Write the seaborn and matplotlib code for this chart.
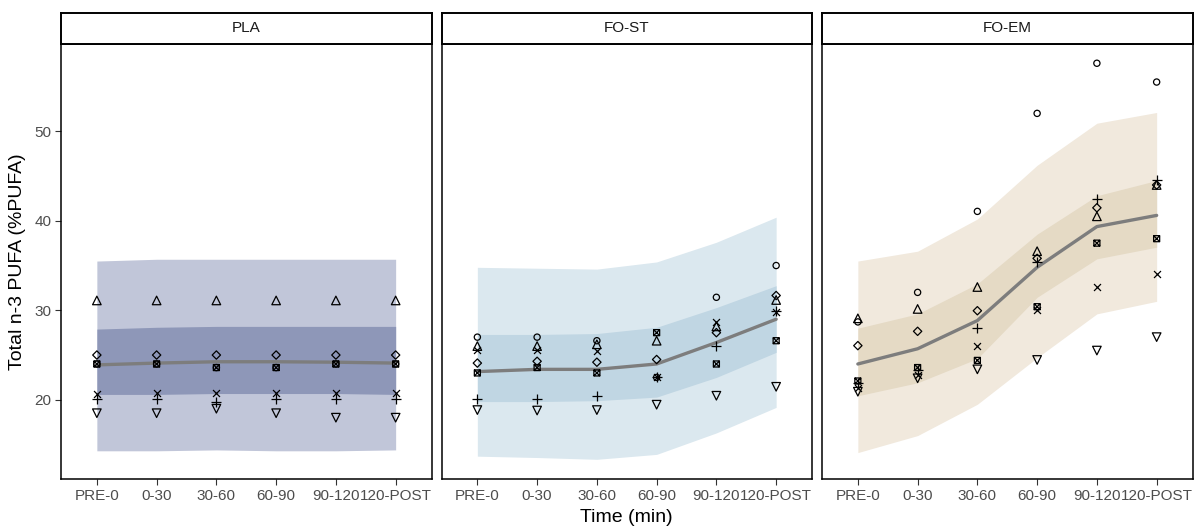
import numpy as np
import pandas as pd
import matplotlib
matplotlib.use("Agg")
import matplotlib.pyplot as plt
from matplotlib.path import Path
import seaborn as sns

sns.set_theme(style="white")
plt.rcParams["font.family"] = ["Liberation Sans", "DejaVu Sans"]

# ---- data -------------------------------------------------------------
TIMES = ["PRE-0", "0-30", "30-60", "60-90", "90-120", "120-POST"]
GROUPS = ["PLA", "FO-ST", "FO-EM"]
SUBJECTS = ["S1", "S2", "S3", "S4", "S5", "S6", "S7"]

# individual values, one row per subject (S1..S7), one column per time window
pla_obs = [
    [24.0, 24.0, 23.6, 23.6, 24.0, 24.0],
    [31.1, 31.1, 31.1, 31.1, 31.1, 31.1],
    [20.1, 20.1, 19.7, 20.1, 20.1, 20.1],
    [20.6, 20.8, 20.8, 20.8, 20.8, 20.8],
    [25.0, 25.0, 25.0, 25.0, 25.0, 25.0],
    [18.5, 18.5, 19.0, 18.5, 18.0, 18.0],
    [24.0, 24.0, 23.6, 23.6, 24.0, 24.0],
]
fost_obs = [
    [27.0, 27.0, 26.6, 22.5, 31.45, 35.0],
    [26.0, 26.0, 26.2, 26.6, 28.2, 31.15],
    [20.1, 20.1, 20.45, 22.5, 26.05, 29.95],
    [25.6, 25.6, 25.5, 22.5, 28.65, 29.8],
    [24.1, 24.3, 24.2, 24.5, 27.5, 31.65],
    [18.85, 18.8, 18.85, 19.45, 20.45, 21.45],
    [23.0, 23.6, 23.0, 27.5, 24.0, 26.6],
]
foem_obs = [
    [28.7, 32.0, 41.05, 52.0, 57.6, 55.5],
    [29.1, 30.15, 32.6, 36.6, 40.5, 44.0],
    [21.9, 23.3, 28.0, 35.4, 42.45, 44.6],
    [21.3, 22.8, 26.05, 30.0, 32.55, 34.05],
    [26.05, 27.65, 29.95, 35.8, 41.45, 44.0],
    [20.9, 22.4, 23.4, 24.45, 25.5, 27.0],
    [22.1, 23.6, 24.4, 30.4, 37.5, 38.0],
]

# model fit with confidence (inner) and prediction (outer) intervals
pla_fit = [23.9, 24.1, 24.25, 24.25, 24.2, 24.1]
pla_ci_lo = [20.6, 20.6, 20.7, 20.7, 20.7, 20.6]
pla_ci_hi = [27.9, 28.1, 28.2, 28.2, 28.2, 28.2]
pla_pi_lo = [14.3, 14.3, 14.4, 14.3, 14.3, 14.4]
pla_pi_hi = [35.5, 35.7, 35.7, 35.7, 35.7, 35.7]

fost_fit = [23.15, 23.4, 23.4, 24.0, 26.4, 29.0]
fost_ci_lo = [19.8, 19.8, 19.9, 20.3, 22.5, 25.3]
fost_ci_hi = [27.3, 27.3, 27.4, 28.1, 30.3, 32.75]
fost_pi_lo = [13.7, 13.55, 13.35, 13.9, 16.3, 19.15]
fost_pi_hi = [34.8, 34.7, 34.6, 35.4, 37.6, 40.4]

foem_fit = [24.0, 25.7, 28.85, 34.8, 39.35, 40.6]
foem_ci_lo = [20.45, 21.9, 24.6, 31.45, 35.75, 37.05]
foem_ci_hi = [28.0, 29.6, 32.95, 38.5, 42.8, 44.5]
foem_pi_lo = [14.1, 16.0, 19.5, 24.7, 29.6, 31.0]
foem_pi_hi = [35.5, 36.6, 40.2, 46.2, 50.9, 52.1]

Y_TICKS = [20, 30, 40, 50]

# ---- styling ----------------------------------------------------------
band_colors = {
    "PLA": ("#c1c6d9", "#8e97b8"),
    "FO-ST": ("#dbe8ef", "#c0d6e3"),
    "FO-EM": ("#f1e9dd", "#e5dac5"),
}

# square with a cross inside
sq_cross = Path(
    [(-1, -1), (1, -1), (1, 1), (-1, 1), (-1, -1), (-1, -1), (1, 1), (-1, 1), (1, -1)],
    [Path.MOVETO, Path.LINETO, Path.LINETO, Path.LINETO, Path.CLOSEPOLY,
     Path.MOVETO, Path.LINETO, Path.MOVETO, Path.LINETO],
)
marker_spec = {
    "S1": ("o", 20, True),
    "S2": ("^", 38, True),
    "S3": ("+", 46, False),
    "S4": ("x", 25, False),
    "S5": ("D", 18, True),
    "S6": ("v", 38, True),
    "S7": (sq_cross, 19, True),
}

obs = {"PLA": pla_obs, "FO-ST": fost_obs, "FO-EM": foem_obs}
fits = {
    "PLA": (pla_fit, pla_ci_lo, pla_ci_hi, pla_pi_lo, pla_pi_hi),
    "FO-ST": (fost_fit, fost_ci_lo, fost_ci_hi, fost_pi_lo, fost_pi_hi),
    "FO-EM": (foem_fit, foem_ci_lo, foem_ci_hi, foem_pi_lo, foem_pi_hi),
}

W, H = 1198, 530
fig = plt.figure(figsize=(W / 100, H / 100), dpi=100)

panel_w = 370.5
panel_lefts = [61, 441.5, 822]
top, bottom = 44, 479
strip_top = 13

x = np.arange(1, len(TIMES) + 1)
for gi, g in enumerate(GROUPS):
    left = panel_lefts[gi]
    ax = fig.add_axes([left / W, (H - bottom) / H, panel_w / W, (bottom - top) / H])
    fit, ci_lo, ci_hi, pi_lo, pi_hi = fits[g]
    outer_c, inner_c = band_colors[g]
    ax.fill_between(x, pi_lo, pi_hi, color=outer_c, lw=0, zorder=1)
    ax.fill_between(x, ci_lo, ci_hi, color=inner_c, lw=0, zorder=2)

    fit_df = pd.DataFrame({"pos": x, "value": fit})
    sns.lineplot(data=fit_df, x="pos", y="value", ax=ax, color="#7d7d7d",
                 linewidth=2.4, zorder=3)

    for si, s in enumerate(SUBJECTS):
        m, size, filled = marker_spec[s]
        sdf = pd.DataFrame({"pos": x, "value": obs[g][si]})
        if filled:
            sns.scatterplot(data=sdf, x="pos", y="value", ax=ax, marker=m, s=size,
                            facecolor="none", edgecolor="black", linewidth=0.9,
                            zorder=4)
        else:
            sns.scatterplot(data=sdf, x="pos", y="value", ax=ax, marker=m, s=size,
                            color="black", linewidth=0.9, zorder=4)

    ax.set_xlim(0.4, 6.6)
    ax.set_ylim(11.15, 59.75)
    ax.set_xticks(x)
    ax.set_xticklabels(TIMES)
    ax.set_xlabel("")
    ax.set_ylabel("")
    ax.set_yticks(Y_TICKS)
    ax.tick_params(axis="both", which="both", length=4, width=0.8, color="#333333",
                   labelsize=11, labelcolor="#4d4d4d", pad=3,
                   bottom=True, left=(gi == 0))
    if gi != 0:
        ax.set_yticklabels([])
    for sp in ax.spines.values():
        sp.set_visible(True)
        sp.set_color("black")
        sp.set_linewidth(1.1)

    # facet strip
    sax = fig.add_axes([left / W, (H - top) / H, panel_w / W, (top - strip_top) / H])
    sax.set_xticks([])
    sax.set_yticks([])
    sax.set_facecolor("white")
    for sp in sax.spines.values():
        sp.set_visible(True)
        sp.set_color("black")
        sp.set_linewidth(1.4)
    sax.text(0.5, 0.5, g, ha="center", va="center", fontsize=11, color="#1a1a1a",
             transform=sax.transAxes)

fig.text((61 + 822 + panel_w) / 2 / W, 1 - 518 / H, "Time (min)", ha="center",
         va="center", fontsize=14, color="black")
fig.text(18 / W, 1 - 262 / H, "Total n-3 PUFA (%PUFA)", ha="center", va="center",
         rotation=90, fontsize=14, color="black")

fig.savefig("out.png", dpi=100, facecolor="white")
